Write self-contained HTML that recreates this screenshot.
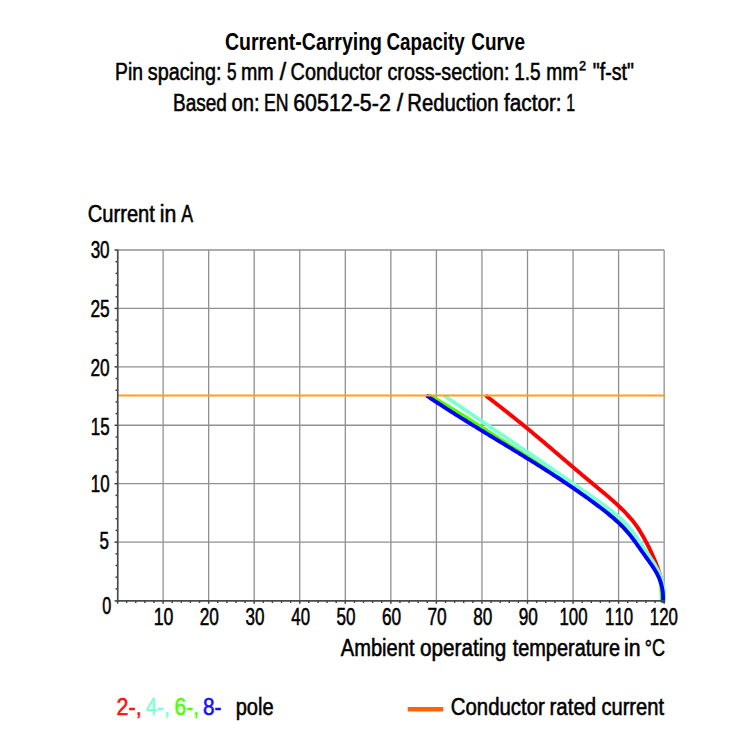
<!DOCTYPE html>
<html><head><meta charset="utf-8"><title>Current-Carrying Capacity Curve</title>
<style>html,body{margin:0;padding:0;background:#fff;}svg{display:block;}</style>
</head><body>
<svg width="750" height="750" viewBox="0 0 750 750">
<rect width="750" height="750" fill="#fff"/>
<g stroke="#909090" stroke-width="1.3" fill="none"><line x1="163.10" y1="250.00" x2="163.10" y2="600.55"/><line x1="208.65" y1="250.00" x2="208.65" y2="600.55"/><line x1="254.20" y1="250.00" x2="254.20" y2="600.55"/><line x1="299.75" y1="250.00" x2="299.75" y2="600.55"/><line x1="345.30" y1="250.00" x2="345.30" y2="600.55"/><line x1="390.85" y1="250.00" x2="390.85" y2="600.55"/><line x1="436.40" y1="250.00" x2="436.40" y2="600.55"/><line x1="481.95" y1="250.00" x2="481.95" y2="600.55"/><line x1="527.50" y1="250.00" x2="527.50" y2="600.55"/><line x1="573.05" y1="250.00" x2="573.05" y2="600.55"/><line x1="618.60" y1="250.00" x2="618.60" y2="600.55"/><line x1="664.15" y1="250.00" x2="664.15" y2="600.55"/><line x1="117.55" y1="542.12" x2="664.15" y2="542.12"/><line x1="117.55" y1="483.70" x2="664.15" y2="483.70"/><line x1="117.55" y1="425.27" x2="664.15" y2="425.27"/><line x1="117.55" y1="366.85" x2="664.15" y2="366.85"/><line x1="117.55" y1="308.42" x2="664.15" y2="308.42"/><line x1="117.55" y1="250.00" x2="664.15" y2="250.00"/></g>
<g fill="none" stroke-width="3.9" stroke-linejoin="round">
<path d="M485.62,395.48 L487.02,396.56 L488.42,397.64 L489.82,398.72 L491.22,399.80 L492.62,400.88 L494.02,401.96 L495.42,403.05 L496.82,404.14 L498.21,405.23 L499.61,406.32 L501.01,407.41 L502.40,408.51 L503.80,409.60 L505.19,410.70 L506.58,411.80 L507.98,412.90 L509.37,414.00 L510.76,415.11 L512.15,416.21 L513.53,417.32 L514.92,418.43 L516.31,419.54 L517.69,420.65 L519.07,421.77 L520.45,422.88 L521.83,424.00 L523.21,425.12 L524.59,426.24 L525.96,427.36 L527.33,428.49 L528.70,429.61 L530.07,430.74 L531.44,431.87 L532.80,433.00 L534.17,434.14 L535.53,435.27 L536.88,436.41 L538.24,437.55 L539.60,438.68 L540.95,439.82 L542.31,440.97 L543.66,442.11 L545.01,443.25 L546.36,444.40 L547.71,445.54 L549.05,446.69 L550.40,447.84 L551.75,448.98 L553.09,450.13 L554.44,451.28 L555.78,452.43 L557.13,453.58 L558.47,454.73 L559.82,455.88 L561.16,457.03 L562.50,458.18 L563.85,459.33 L565.19,460.48 L566.54,461.63 L567.89,462.78 L569.23,463.93 L570.58,465.08 L571.93,466.23 L573.28,467.38 L574.63,468.53 L575.98,469.67 L577.33,470.82 L578.69,471.97 L580.04,473.11 L581.40,474.25 L582.76,475.40 L584.12,476.54 L585.48,477.68 L586.84,478.82 L588.21,479.95 L589.58,481.09 L590.95,482.23 L592.32,483.36 L593.69,484.49 L595.07,485.62 L596.44,486.76 L597.81,487.89 L599.19,489.03 L600.56,490.16 L601.92,491.30 L603.29,492.44 L604.65,493.59 L606.01,494.74 L607.36,495.89 L608.71,497.05 L610.06,498.21 L611.39,499.38 L612.72,500.55 L614.04,501.73 L615.36,502.92 L616.66,504.12 L617.96,505.32 L619.24,506.53 L620.52,507.75 L621.78,508.99 L623.04,510.23 L624.28,511.48 L625.50,512.74 L626.72,514.02 L627.92,515.30 L629.10,516.61 L630.26,517.92 L631.40,519.26 L632.52,520.61 L633.61,521.99 L634.68,523.38 L635.72,524.80 L636.74,526.23 L637.74,527.68 L638.71,529.16 L639.65,530.64 L640.58,532.15 L641.49,533.66 L642.38,535.19 L643.26,536.74 L644.12,538.29 L644.97,539.85 L645.81,541.41 L646.64,542.99 L647.45,544.57 L648.26,546.16 L649.06,547.75 L649.84,549.35 L650.61,550.95 L651.37,552.56 L652.11,554.17 L652.85,555.79 L653.56,557.42 L654.27,559.05 L654.95,560.69 L655.62,562.33 L656.27,563.98 L656.90,565.63 L657.51,567.29 L658.10,568.96 L658.66,570.63 L659.20,572.31 L659.72,574.00 L660.21,575.69 L660.67,577.40 L661.10,579.10 L661.50,580.82 L661.87,582.54 L662.21,584.27 L662.52,586.01 L662.79,587.76 L663.02,589.51 L663.22,591.27 L663.38,593.04 L663.50,594.82 L663.59,596.61 L663.63,598.41 L663.62,600.21 L663.58,602.03" stroke="#ff0000"/>
<path d="M428.98,395.26 L430.75,396.25 L432.51,397.25 L434.27,398.25 L436.03,399.26 L437.78,400.28 L439.53,401.30 L441.28,402.32 L443.02,403.35 L444.77,404.39 L446.51,405.43 L448.24,406.47 L449.98,407.52 L451.71,408.57 L453.44,409.63 L455.17,410.69 L456.89,411.75 L458.62,412.82 L460.34,413.89 L462.06,414.96 L463.77,416.04 L465.49,417.12 L467.21,418.20 L468.92,419.29 L470.63,420.38 L472.34,421.46 L474.05,422.56 L475.76,423.65 L477.47,424.74 L479.18,425.84 L480.88,426.94 L482.59,428.04 L484.29,429.14 L486.00,430.24 L487.70,431.34 L489.41,432.44 L491.11,433.54 L492.82,434.64 L494.52,435.74 L496.22,436.85 L497.93,437.95 L499.64,439.05 L501.34,440.15 L503.05,441.25 L504.75,442.35 L506.46,443.45 L508.17,444.54 L509.88,445.64 L511.59,446.73 L513.30,447.82 L515.02,448.91 L516.73,450.00 L518.45,451.08 L520.16,452.16 L521.88,453.25 L523.60,454.33 L525.32,455.41 L527.04,456.48 L528.76,457.56 L530.48,458.64 L532.20,459.72 L533.92,460.79 L535.64,461.87 L537.36,462.95 L539.08,464.02 L540.80,465.10 L542.52,466.18 L544.24,467.26 L545.96,468.34 L547.67,469.42 L549.39,470.51 L551.10,471.60 L552.81,472.68 L554.53,473.77 L556.23,474.87 L557.94,475.96 L559.65,477.06 L561.35,478.16 L563.05,479.27 L564.75,480.38 L566.45,481.49 L568.14,482.61 L569.83,483.73 L571.52,484.85 L573.20,485.98 L574.88,487.12 L576.56,488.26 L578.24,489.40 L579.91,490.55 L581.57,491.70 L583.24,492.86 L584.90,494.03 L586.55,495.20 L588.20,496.38 L589.85,497.57 L591.49,498.76 L593.13,499.96 L594.76,501.17 L596.39,502.38 L598.01,503.60 L599.63,504.83 L601.24,506.07 L602.85,507.32 L604.44,508.57 L606.03,509.84 L607.61,511.12 L609.18,512.41 L610.73,513.71 L612.28,515.03 L613.81,516.36 L615.32,517.71 L616.82,519.07 L618.31,520.44 L619.77,521.84 L621.22,523.25 L622.65,524.68 L624.06,526.13 L625.45,527.60 L626.82,529.09 L628.16,530.60 L629.49,532.13 L630.79,533.68 L632.07,535.25 L633.33,536.84 L634.58,538.44 L635.81,540.05 L637.02,541.68 L638.23,543.32 L639.43,544.97 L640.61,546.63 L641.79,548.29 L642.96,549.96 L644.13,551.63 L645.30,553.31 L646.47,554.98 L647.63,556.66 L648.78,558.34 L649.91,560.03 L651.02,561.73 L652.11,563.44 L653.16,565.16 L654.17,566.90 L655.14,568.66 L656.07,570.43 L656.94,572.23 L657.75,574.05 L658.49,575.90 L659.16,577.78 L659.76,579.69 L660.28,581.64 L660.71,583.61 L661.04,585.63 L661.29,587.68 L661.45,589.77 L661.55,591.86 L661.62,593.95 L661.67,596.03 L661.72,598.09 L661.80,600.09 L661.92,602.04" stroke="#4dff00"/>
<path d="M444.04,395.50 L445.66,396.61 L447.28,397.73 L448.91,398.84 L450.53,399.95 L452.15,401.06 L453.78,402.17 L455.40,403.28 L457.03,404.39 L458.65,405.50 L460.28,406.60 L461.90,407.71 L463.53,408.82 L465.15,409.92 L466.78,411.03 L468.40,412.13 L470.03,413.24 L471.65,414.34 L473.28,415.44 L474.90,416.54 L476.53,417.65 L478.15,418.75 L479.78,419.85 L481.41,420.95 L483.03,422.05 L484.66,423.15 L486.28,424.25 L487.91,425.35 L489.53,426.45 L491.16,427.55 L492.78,428.65 L494.41,429.75 L496.04,430.85 L497.66,431.95 L499.29,433.05 L500.91,434.14 L502.54,435.24 L504.16,436.34 L505.79,437.44 L507.41,438.54 L509.04,439.64 L510.66,440.74 L512.28,441.84 L513.91,442.94 L515.53,444.04 L517.16,445.14 L518.78,446.24 L520.40,447.34 L522.03,448.44 L523.65,449.54 L525.27,450.64 L526.90,451.74 L528.52,452.85 L530.14,453.95 L531.76,455.05 L533.38,456.16 L535.00,457.26 L536.63,458.37 L538.25,459.47 L539.87,460.58 L541.49,461.68 L543.11,462.79 L544.73,463.90 L546.34,465.01 L547.96,466.12 L549.58,467.23 L551.20,468.34 L552.82,469.45 L554.44,470.56 L556.05,471.67 L557.67,472.79 L559.28,473.90 L560.90,475.02 L562.52,476.13 L564.13,477.25 L565.74,478.37 L567.36,479.49 L568.97,480.61 L570.59,481.73 L572.20,482.86 L573.81,483.98 L575.42,485.11 L577.03,486.23 L578.64,487.36 L580.25,488.49 L581.86,489.62 L583.47,490.75 L585.08,491.88 L586.69,493.01 L588.29,494.15 L589.90,495.29 L591.51,496.42 L593.11,497.56 L594.72,498.70 L596.32,499.85 L597.93,500.99 L599.53,502.14 L601.13,503.28 L602.73,504.44 L604.32,505.59 L605.91,506.76 L607.48,507.93 L609.05,509.12 L610.61,510.31 L612.15,511.52 L613.68,512.74 L615.20,513.98 L616.69,515.24 L618.17,516.51 L619.62,517.81 L621.06,519.13 L622.47,520.47 L623.85,521.84 L625.21,523.23 L626.54,524.65 L627.84,526.10 L629.11,527.58 L630.35,529.09 L631.57,530.62 L632.76,532.17 L633.94,533.74 L635.09,535.33 L636.23,536.94 L637.36,538.56 L638.48,540.18 L639.59,541.82 L640.69,543.46 L641.79,545.11 L642.89,546.75 L643.99,548.40 L645.09,550.04 L646.20,551.68 L647.31,553.31 L648.42,554.94 L649.53,556.57 L650.62,558.21 L651.69,559.85 L652.75,561.49 L653.78,563.15 L654.79,564.82 L655.76,566.50 L656.70,568.20 L657.59,569.92 L658.44,571.65 L659.24,573.41 L659.98,575.20 L660.67,577.01 L661.29,578.86 L661.85,580.73 L662.34,582.63 L662.78,584.55 L663.15,586.49 L663.46,588.45 L663.71,590.42 L663.90,592.40 L664.04,594.39 L664.12,596.38 L664.15,598.38 L664.12,600.37 L664.04,602.36" stroke="#7fffd4"/>
<path d="M426.25,395.34 L427.94,396.48 L429.64,397.62 L431.33,398.76 L433.03,399.89 L434.73,401.01 L436.44,402.13 L438.14,403.25 L439.85,404.37 L441.56,405.48 L443.28,406.59 L444.99,407.70 L446.71,408.80 L448.43,409.90 L450.15,411.00 L451.87,412.09 L453.59,413.19 L455.32,414.28 L457.05,415.37 L458.78,416.45 L460.51,417.53 L462.24,418.62 L463.98,419.69 L465.71,420.77 L467.45,421.85 L469.19,422.92 L470.92,423.99 L472.66,425.07 L474.40,426.13 L476.15,427.20 L477.89,428.27 L479.63,429.34 L481.38,430.40 L483.12,431.46 L484.87,432.53 L486.61,433.59 L488.36,434.65 L490.10,435.71 L491.85,436.77 L493.60,437.84 L495.35,438.90 L497.09,439.96 L498.84,441.02 L500.59,442.08 L502.34,443.14 L504.08,444.20 L505.83,445.26 L507.58,446.32 L509.32,447.38 L511.07,448.45 L512.81,449.51 L514.56,450.57 L516.30,451.64 L518.05,452.71 L519.79,453.77 L521.53,454.84 L523.27,455.91 L525.01,456.98 L526.75,458.06 L528.49,459.13 L530.23,460.21 L531.96,461.29 L533.69,462.37 L535.43,463.45 L537.16,464.53 L538.89,465.62 L540.62,466.71 L542.34,467.80 L544.07,468.90 L545.79,469.99 L547.51,471.09 L549.23,472.19 L550.95,473.30 L552.66,474.41 L554.38,475.52 L556.09,476.63 L557.80,477.75 L559.50,478.87 L561.21,480.00 L562.91,481.12 L564.61,482.26 L566.31,483.39 L568.00,484.53 L569.69,485.67 L571.38,486.82 L573.07,487.97 L574.75,489.13 L576.43,490.29 L578.10,491.46 L579.78,492.63 L581.45,493.80 L583.11,494.98 L584.78,496.16 L586.44,497.35 L588.10,498.54 L589.75,499.74 L591.40,500.95 L593.04,502.16 L594.69,503.37 L596.33,504.59 L597.96,505.82 L599.59,507.05 L601.22,508.29 L602.84,509.54 L604.45,510.79 L606.05,512.06 L607.64,513.33 L609.23,514.62 L610.80,515.92 L612.35,517.24 L613.89,518.57 L615.42,519.92 L616.93,521.29 L618.42,522.67 L619.89,524.07 L621.34,525.50 L622.76,526.94 L624.17,528.41 L625.55,529.90 L626.90,531.42 L628.23,532.96 L629.53,534.53 L630.81,536.12 L632.06,537.73 L633.30,539.36 L634.53,541.01 L635.74,542.66 L636.94,544.33 L638.13,546.01 L639.32,547.69 L640.50,549.38 L641.69,551.06 L642.87,552.75 L644.06,554.43 L645.26,556.11 L646.47,557.77 L647.68,559.44 L648.88,561.11 L650.07,562.77 L651.24,564.45 L652.39,566.13 L653.51,567.82 L654.60,569.53 L655.64,571.26 L656.63,573.01 L657.57,574.78 L658.45,576.58 L659.26,578.41 L659.99,580.27 L660.65,582.17 L661.23,584.10 L661.73,586.06 L662.16,588.06 L662.50,590.08 L662.77,592.12 L662.95,594.19 L663.06,596.28 L663.09,598.38 L663.05,600.51 L662.92,602.64" stroke="#0000ff"/>
</g>
<line x1="118.15" y1="395.5" x2="665.25" y2="395.5" stroke="#fba020" stroke-width="2"/>
<g stroke="#333" stroke-width="1.4"><line x1="114.55" y1="600.90" x2="117.55" y2="600.90"/><line x1="115.55" y1="588.87" x2="117.55" y2="588.87"/><line x1="115.55" y1="577.18" x2="117.55" y2="577.18"/><line x1="115.55" y1="565.50" x2="117.55" y2="565.50"/><line x1="115.55" y1="553.81" x2="117.55" y2="553.81"/><line x1="114.55" y1="542.12" x2="117.55" y2="542.12"/><line x1="115.55" y1="530.44" x2="117.55" y2="530.44"/><line x1="115.55" y1="518.75" x2="117.55" y2="518.75"/><line x1="115.55" y1="507.07" x2="117.55" y2="507.07"/><line x1="115.55" y1="495.38" x2="117.55" y2="495.38"/><line x1="114.55" y1="483.70" x2="117.55" y2="483.70"/><line x1="115.55" y1="472.01" x2="117.55" y2="472.01"/><line x1="115.55" y1="460.33" x2="117.55" y2="460.33"/><line x1="115.55" y1="448.64" x2="117.55" y2="448.64"/><line x1="115.55" y1="436.96" x2="117.55" y2="436.96"/><line x1="114.55" y1="425.27" x2="117.55" y2="425.27"/><line x1="115.55" y1="413.59" x2="117.55" y2="413.59"/><line x1="115.55" y1="401.90" x2="117.55" y2="401.90"/><line x1="115.55" y1="390.22" x2="117.55" y2="390.22"/><line x1="115.55" y1="378.53" x2="117.55" y2="378.53"/><line x1="114.55" y1="366.85" x2="117.55" y2="366.85"/><line x1="115.55" y1="355.16" x2="117.55" y2="355.16"/><line x1="115.55" y1="343.48" x2="117.55" y2="343.48"/><line x1="115.55" y1="331.79" x2="117.55" y2="331.79"/><line x1="115.55" y1="320.11" x2="117.55" y2="320.11"/><line x1="114.55" y1="308.42" x2="117.55" y2="308.42"/><line x1="115.55" y1="296.74" x2="117.55" y2="296.74"/><line x1="115.55" y1="285.05" x2="117.55" y2="285.05"/><line x1="115.55" y1="273.37" x2="117.55" y2="273.37"/><line x1="115.55" y1="261.68" x2="117.55" y2="261.68"/><line x1="114.55" y1="250.00" x2="117.55" y2="250.00"/><line x1="117.55" y1="600.90" x2="117.55" y2="603.70"/><line x1="126.66" y1="600.90" x2="126.66" y2="602.90"/><line x1="135.77" y1="600.90" x2="135.77" y2="602.90"/><line x1="144.88" y1="600.90" x2="144.88" y2="602.90"/><line x1="153.99" y1="600.90" x2="153.99" y2="602.90"/><line x1="163.10" y1="600.90" x2="163.10" y2="603.70"/><line x1="172.21" y1="600.90" x2="172.21" y2="602.90"/><line x1="181.32" y1="600.90" x2="181.32" y2="602.90"/><line x1="190.43" y1="600.90" x2="190.43" y2="602.90"/><line x1="199.54" y1="600.90" x2="199.54" y2="602.90"/><line x1="208.65" y1="600.90" x2="208.65" y2="603.70"/><line x1="217.76" y1="600.90" x2="217.76" y2="602.90"/><line x1="226.87" y1="600.90" x2="226.87" y2="602.90"/><line x1="235.98" y1="600.90" x2="235.98" y2="602.90"/><line x1="245.09" y1="600.90" x2="245.09" y2="602.90"/><line x1="254.20" y1="600.90" x2="254.20" y2="603.70"/><line x1="263.31" y1="600.90" x2="263.31" y2="602.90"/><line x1="272.42" y1="600.90" x2="272.42" y2="602.90"/><line x1="281.53" y1="600.90" x2="281.53" y2="602.90"/><line x1="290.64" y1="600.90" x2="290.64" y2="602.90"/><line x1="299.75" y1="600.90" x2="299.75" y2="603.70"/><line x1="308.86" y1="600.90" x2="308.86" y2="602.90"/><line x1="317.97" y1="600.90" x2="317.97" y2="602.90"/><line x1="327.08" y1="600.90" x2="327.08" y2="602.90"/><line x1="336.19" y1="600.90" x2="336.19" y2="602.90"/><line x1="345.30" y1="600.90" x2="345.30" y2="603.70"/><line x1="354.41" y1="600.90" x2="354.41" y2="602.90"/><line x1="363.52" y1="600.90" x2="363.52" y2="602.90"/><line x1="372.63" y1="600.90" x2="372.63" y2="602.90"/><line x1="381.74" y1="600.90" x2="381.74" y2="602.90"/><line x1="390.85" y1="600.90" x2="390.85" y2="603.70"/><line x1="399.96" y1="600.90" x2="399.96" y2="602.90"/><line x1="409.07" y1="600.90" x2="409.07" y2="602.90"/><line x1="418.18" y1="600.90" x2="418.18" y2="602.90"/><line x1="427.29" y1="600.90" x2="427.29" y2="602.90"/><line x1="436.40" y1="600.90" x2="436.40" y2="603.70"/><line x1="445.51" y1="600.90" x2="445.51" y2="602.90"/><line x1="454.62" y1="600.90" x2="454.62" y2="602.90"/><line x1="463.73" y1="600.90" x2="463.73" y2="602.90"/><line x1="472.84" y1="600.90" x2="472.84" y2="602.90"/><line x1="481.95" y1="600.90" x2="481.95" y2="603.70"/><line x1="491.06" y1="600.90" x2="491.06" y2="602.90"/><line x1="500.17" y1="600.90" x2="500.17" y2="602.90"/><line x1="509.28" y1="600.90" x2="509.28" y2="602.90"/><line x1="518.39" y1="600.90" x2="518.39" y2="602.90"/><line x1="527.50" y1="600.90" x2="527.50" y2="603.70"/><line x1="536.61" y1="600.90" x2="536.61" y2="602.90"/><line x1="545.72" y1="600.90" x2="545.72" y2="602.90"/><line x1="554.83" y1="600.90" x2="554.83" y2="602.90"/><line x1="563.94" y1="600.90" x2="563.94" y2="602.90"/><line x1="573.05" y1="600.90" x2="573.05" y2="603.70"/><line x1="582.16" y1="600.90" x2="582.16" y2="602.90"/><line x1="591.27" y1="600.90" x2="591.27" y2="602.90"/><line x1="600.38" y1="600.90" x2="600.38" y2="602.90"/><line x1="609.49" y1="600.90" x2="609.49" y2="602.90"/><line x1="618.60" y1="600.90" x2="618.60" y2="603.70"/><line x1="627.71" y1="600.90" x2="627.71" y2="602.90"/><line x1="636.82" y1="600.90" x2="636.82" y2="602.90"/><line x1="645.93" y1="600.90" x2="645.93" y2="602.90"/><line x1="655.04" y1="600.90" x2="655.04" y2="602.90"/><line x1="664.15" y1="600.90" x2="664.15" y2="603.70"/></g><line x1="117.75" y1="249.40" x2="117.75" y2="601.70" stroke="#4a4a4a" stroke-width="1.7"/><line x1="116.75" y1="600.90" x2="664.75" y2="600.90" stroke="#4a4a4a" stroke-width="1.7"/>
<line x1="407.7" y1="709.2" x2="443.3" y2="709.2" stroke="#ff6400" stroke-width="4.4"/>
<g font-family="'Liberation Sans', Arial, sans-serif" font-size="23.0" fill="#000" style="font-kerning:none">
<text x="224.90" y="49.9" font-size="24" font-weight="bold" textLength="157.10" lengthAdjust="spacingAndGlyphs">Current-Carrying</text>
<text x="386.53" y="49.9" font-size="24" font-weight="bold" textLength="78.27" lengthAdjust="spacingAndGlyphs">Capacity</text>
<text x="471.22" y="49.9" font-size="24" font-weight="bold" textLength="53.73" lengthAdjust="spacingAndGlyphs">Curve</text>
<text x="115.09" y="79.8" stroke="#000" stroke-width="0.55" textLength="27.89" lengthAdjust="spacingAndGlyphs">Pin</text>
<text x="147.72" y="79.8" stroke="#000" stroke-width="0.55" textLength="73.81" lengthAdjust="spacingAndGlyphs">spacing:</text>
<text x="226.89" y="79.8" stroke="#000" stroke-width="0.55" textLength="9.56" lengthAdjust="spacingAndGlyphs">5</text>
<text x="240.97" y="79.8" stroke="#000" stroke-width="0.55" textLength="32.75" lengthAdjust="spacingAndGlyphs">mm</text>
<text x="279.80" y="79.8" stroke="#000" stroke-width="0.55" textLength="6.39" lengthAdjust="spacingAndGlyphs">/</text>
<text x="290.57" y="79.8" stroke="#000" stroke-width="0.55" textLength="91.49" lengthAdjust="spacingAndGlyphs">Conductor</text>
<text x="387.43" y="79.8" stroke="#000" stroke-width="0.55" textLength="122.10" lengthAdjust="spacingAndGlyphs">cross-section:</text>
<text x="514.13" y="79.8" stroke="#000" stroke-width="0.55" textLength="26.39" lengthAdjust="spacingAndGlyphs">1.5</text>
<text x="546.30" y="79.8" stroke="#000" stroke-width="0.55" textLength="31.99" lengthAdjust="spacingAndGlyphs">mm</text>
<text x="592.74" y="79.8" stroke="#000" stroke-width="0.55" textLength="41.11" lengthAdjust="spacingAndGlyphs">"f-st"</text>
<text x="579.33" y="75.6" font-size="21" stroke="#000" stroke-width="0.45" textLength="6.63" lengthAdjust="spacingAndGlyphs">²</text>
<text x="173.01" y="110.9" stroke="#000" stroke-width="0.55" textLength="53.94" lengthAdjust="spacingAndGlyphs">Based</text>
<text x="231.42" y="110.9" stroke="#000" stroke-width="0.55" textLength="28.15" lengthAdjust="spacingAndGlyphs">on:</text>
<text x="263.93" y="110.9" stroke="#000" stroke-width="0.55" textLength="24.54" lengthAdjust="spacingAndGlyphs">EN</text>
<text x="293.19" y="110.9" stroke="#000" stroke-width="0.55" textLength="97.61" lengthAdjust="spacingAndGlyphs">60512-5-2</text>
<text x="396.80" y="110.9" stroke="#000" stroke-width="0.55" textLength="6.39" lengthAdjust="spacingAndGlyphs">/</text>
<text x="407.31" y="110.9" stroke="#000" stroke-width="0.55" textLength="91.33" lengthAdjust="spacingAndGlyphs">Reduction</text>
<text x="503.98" y="110.9" stroke="#000" stroke-width="0.55" textLength="57.64" lengthAdjust="spacingAndGlyphs">factor:</text>
<text x="566.36" y="110.9" stroke="#000" stroke-width="0.55" textLength="8.84" lengthAdjust="spacingAndGlyphs">1</text>
<text x="87.75" y="221.9" stroke="#000" stroke-width="0.55" textLength="67.12" lengthAdjust="spacingAndGlyphs">Current</text>
<text x="159.85" y="221.9" stroke="#000" stroke-width="0.55" textLength="16.55" lengthAdjust="spacingAndGlyphs">in</text>
<text x="181.24" y="221.9" stroke="#000" stroke-width="0.55" textLength="11.82" lengthAdjust="spacingAndGlyphs">A</text>
<text x="340.74" y="656.0" stroke="#000" stroke-width="0.55" textLength="73.84" lengthAdjust="spacingAndGlyphs">Ambient</text>
<text x="420.11" y="656.0" stroke="#000" stroke-width="0.55" textLength="86.25" lengthAdjust="spacingAndGlyphs">operating</text>
<text x="512.67" y="656.0" stroke="#000" stroke-width="0.55" textLength="107.44" lengthAdjust="spacingAndGlyphs">temperature</text>
<text x="624.05" y="656.0" stroke="#000" stroke-width="0.55" textLength="16.55" lengthAdjust="spacingAndGlyphs">in</text>
<text x="644.70" y="656.0" stroke="#000" stroke-width="0.55" textLength="20.21" lengthAdjust="spacingAndGlyphs">°C</text>
<text x="116.60" y="715.0" fill="#ff1010" stroke="#ff1010" stroke-width="0.55" textLength="25.06" lengthAdjust="spacingAndGlyphs">2-,</text>
<text x="145.81" y="715.0" fill="#7fffd4" stroke="#7fffd4" stroke-width="0.55" textLength="23.75" lengthAdjust="spacingAndGlyphs">4-,</text>
<text x="174.60" y="715.0" fill="#4dff00" stroke="#4dff00" stroke-width="0.55" textLength="24.62" lengthAdjust="spacingAndGlyphs">6-,</text>
<text x="202.97" y="715.0" fill="#1010ff" stroke="#1010ff" stroke-width="0.55" textLength="18.48" lengthAdjust="spacingAndGlyphs">8-</text>
<text x="235.68" y="715.0" stroke="#000" stroke-width="0.55" textLength="37.93" lengthAdjust="spacingAndGlyphs">pole</text>
<text x="450.84" y="715.0" stroke="#000" stroke-width="0.55" textLength="93.92" lengthAdjust="spacingAndGlyphs">Conductor</text>
<text x="549.52" y="715.0" stroke="#000" stroke-width="0.55" textLength="46.63" lengthAdjust="spacingAndGlyphs">rated</text>
<text x="601.42" y="715.0" stroke="#000" stroke-width="0.55" textLength="62.65" lengthAdjust="spacingAndGlyphs">current</text>
<text x="99.60" y="549.43" font-size="23.5" stroke="#000" stroke-width="0.55" textLength="9.44" lengthAdjust="spacingAndGlyphs">5</text>
<text x="90.79" y="491.8" font-size="23.5" stroke="#000" stroke-width="0.55" textLength="18.80" lengthAdjust="spacingAndGlyphs">10</text>
<text x="90.78" y="434.57" font-size="23.5" stroke="#000" stroke-width="0.55" textLength="18.85" lengthAdjust="spacingAndGlyphs">15</text>
<text x="90.41" y="375.65" font-size="23.5" stroke="#000" stroke-width="0.55" textLength="19.19" lengthAdjust="spacingAndGlyphs">20</text>
<text x="90.40" y="316.82" font-size="23.5" stroke="#000" stroke-width="0.55" textLength="19.25" lengthAdjust="spacingAndGlyphs">25</text>
<text x="90.63" y="258.1" font-size="23.5" stroke="#000" stroke-width="0.55" textLength="18.97" lengthAdjust="spacingAndGlyphs">30</text>
<text x="102.34" y="614.1" font-size="23.5" stroke="#000" stroke-width="0.55" textLength="9.02" lengthAdjust="spacingAndGlyphs">0</text>
<text x="153.73" y="625.1" font-size="23.5" stroke="#000" stroke-width="0.55" textLength="19.69" lengthAdjust="spacingAndGlyphs">10</text>
<text x="199.76" y="625.1" font-size="23.5" stroke="#000" stroke-width="0.55" textLength="19.19" lengthAdjust="spacingAndGlyphs">20</text>
<text x="245.53" y="625.1" font-size="23.5" stroke="#000" stroke-width="0.55" textLength="18.97" lengthAdjust="spacingAndGlyphs">30</text>
<text x="291.34" y="625.1" font-size="23.5" stroke="#000" stroke-width="0.55" textLength="18.69" lengthAdjust="spacingAndGlyphs">40</text>
<text x="336.59" y="625.1" font-size="23.5" stroke="#000" stroke-width="0.55" textLength="19.00" lengthAdjust="spacingAndGlyphs">50</text>
<text x="381.95" y="625.1" font-size="23.5" stroke="#000" stroke-width="0.55" textLength="19.20" lengthAdjust="spacingAndGlyphs">60</text>
<text x="427.49" y="625.1" font-size="23.5" stroke="#000" stroke-width="0.55" textLength="19.21" lengthAdjust="spacingAndGlyphs">70</text>
<text x="473.18" y="625.1" font-size="23.5" stroke="#000" stroke-width="0.55" textLength="19.06" lengthAdjust="spacingAndGlyphs">80</text>
<text x="518.67" y="625.1" font-size="23.5" stroke="#000" stroke-width="0.55" textLength="19.13" lengthAdjust="spacingAndGlyphs">90</text>
<text x="559.49" y="625.1" font-size="23.5" stroke="#000" stroke-width="0.55" textLength="28.09" lengthAdjust="spacingAndGlyphs">100</text>
<text x="605.04" y="625.1" font-size="23.5" stroke="#000" stroke-width="0.55" textLength="28.09" lengthAdjust="spacingAndGlyphs">110</text>
<text x="649.79" y="625.1" font-size="23.5" stroke="#000" stroke-width="0.55" textLength="28.09" lengthAdjust="spacingAndGlyphs">120</text>
</g>
</svg>
</body></html>
